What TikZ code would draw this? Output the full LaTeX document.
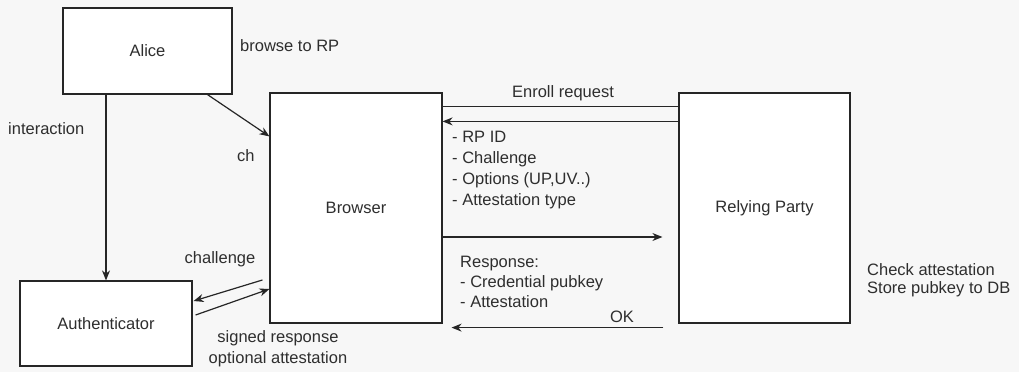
\documentclass[tikz,border=0pt]{standalone}
\usepackage{fontspec}
\setmainfont{Liberation Sans}
\usetikzlibrary{arrows.meta}
\definecolor{bgcol}{HTML}{F7F7F7}
\definecolor{txtcol}{HTML}{2E2E2E}
\begin{document}
\begin{tikzpicture}[x=1pt, y=-1pt, font=\fontsize{16.5}{20}\selectfont, text=txtcol]
    \tikzstyle{arrow} = [line width=1.2pt, draw=black!85, -{Stealth[length=10pt, width=8pt]}]
    \tikzstyle{line} = [line width=1.2pt, draw=black!85]
    \tikzstyle{box} = [rectangle, line width=1.2pt, draw=black!85, fill=white, text centered, inner sep=0pt]
    \tikzstyle{label} = [inner sep=0pt, align=left]

    \useasboundingbox[fill=bgcol] (0,0) rectangle (1019,372);

    \node[box, minimum width=169pt, minimum height=86pt](Alice) at (147.5,51){Alice};
    \node[box, minimum width=172pt, minimum height=230pt](Browser) at (356,208){Browser};
    \node[box, minimum width=171pt, minimum height=230pt](RP) at (764.5,208){Relying Party};
    \node[box, minimum width=172pt, minimum height=85pt](Auth) at (106,323.5){Authenticator};

    \node[label, anchor=west](browse) at (240,46){browse to RP};
    \node[label, anchor=west](inter) at (8,129){interaction};
    \node[label, anchor=west](ch) at (237,156){ch};
    \node[label](chal) at (220,259){challenge};
    \node[label, align=center, font=\fontsize{16.5}{21}\selectfont](signed) at (278,349){signed response\\optional attestation};
    \node[label](enroll) at (563,93){Enroll request};
    \node[label, anchor=north west, font=\fontsize{16.5}{21}\selectfont](opts) at (452,131){- RP ID\\- Challenge\\- Options (UP,UV..)\\- Attestation type};
    \node[label, anchor=north west](resp) at (460,256){Response:\\- Credential pubkey\\- Attestation};
    \node[label](ok) at (622,317){OK};
    \node[label, anchor=north west, font=\fontsize{16.5}{18}\selectfont](check) at (867,263){Check attestation\\Store pubkey to DB};

    \draw[arrow] ([xshift=60pt]Alice.south) -- ([yshift=-44pt]Browser.north west);
    \draw[arrow] (Auth.north |- Alice.south) -- (Auth.north);
    \draw[line] ([yshift=-14pt]Browser.north east) -- ([yshift=-14pt]RP.north west);
    \draw[arrow] ([yshift=-29pt]RP.north west) -- ([yshift=-29pt]Browser.north east);
    \draw[arrow] ([yshift=-29pt]Browser.east) -- ([xshift=-16pt, yshift=-29pt]RP.west);
    \draw[arrow] ([xshift=-15pt, yshift=-4pt]RP.south west) -- ([xshift=9pt, yshift=-4pt]Browser.south east);
    \draw[arrow] ([xshift=-7pt, yshift=-72pt]Browser.west) -- ([xshift=1pt, yshift=22.5pt]Auth.east);
    \draw[arrow] ([xshift=3pt, yshift=8.5pt]Auth.east) -- ([yshift=-81pt]Browser.west);
\end{tikzpicture}
\end{document}
